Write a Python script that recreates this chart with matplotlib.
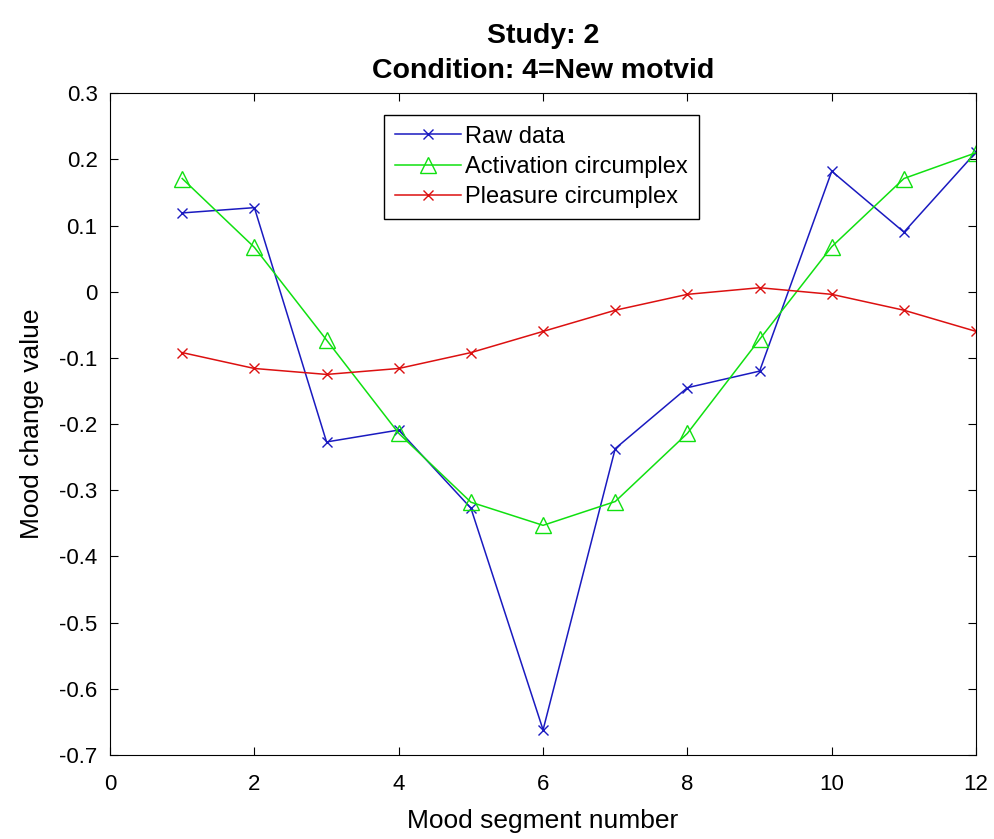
import numpy as np
import matplotlib
matplotlib.use("Agg")
import matplotlib.pyplot as plt

plt.rcParams['font.family'] = ['Liberation Sans', 'DejaVu Sans']

segments = np.arange(1, 13)
raw_data = [0.119, 0.127, -0.227, -0.209, -0.327, -0.662, -0.237, -0.145, -0.120, 0.182, 0.090, 0.211]
activation = [0.171, 0.067, -0.073, -0.214, -0.318, -0.353, -0.317, -0.214, -0.072, 0.068, 0.171, 0.210]
pleasure = [-0.092, -0.116, -0.125, -0.116, -0.092, -0.060, -0.028, -0.004, 0.006, -0.004, -0.028, -0.060]
yticks = [-0.7, -0.6, -0.5, -0.4, -0.3, -0.2, -0.1, 0, 0.1, 0.2, 0.3]

fig = plt.figure(figsize=(9.94, 8.39), dpi=100)
ax = fig.add_axes([0.1107, 0.1001, 0.8713, 0.7889])

ax.plot(segments, raw_data, color='#1a1ac0', marker='x', markersize=7, linewidth=1.1, label='Raw data')
ax.plot(segments, activation, color='#10e010', marker='^', markersize=12, markerfacecolor='none',
        linewidth=1.1, label='Activation circumplex')
ax.plot(segments, pleasure, color='#dc1010', marker='x', markersize=7, linewidth=1.1, label='Pleasure circumplex')

ax.set_xlim(0, 12)
ax.set_ylim(-0.7, 0.3)
ax.set_xticks(np.arange(0, 13, 2))
ax.set_yticks(yticks)
ax.set_yticklabels([f'{v:g}' for v in yticks])
ax.tick_params(direction='in', length=6, labelsize=16, top=True, right=True)
ax.tick_params(axis='x', pad=14)
ax.tick_params(axis='y', pad=9)

ax.set_xlabel('Mood segment number', fontsize=19, labelpad=10)
ax.set_ylabel('Mood change value', fontsize=19, labelpad=11)
ax.set_title('Study: 2\nCondition: 4=New motvid', fontsize=20.5, fontweight='bold', linespacing=1.45, pad=11)

leg = ax.legend(loc='upper center', bbox_to_anchor=(0.498, 0.967), fontsize=17, fancybox=False,
                edgecolor='black', framealpha=1, handlelength=2.8, handletextpad=0.2,
                borderpad=0.45, labelspacing=0.35, borderaxespad=0)
leg.get_frame().set_linewidth(1.0)

fig.savefig('out.png', dpi=100)
